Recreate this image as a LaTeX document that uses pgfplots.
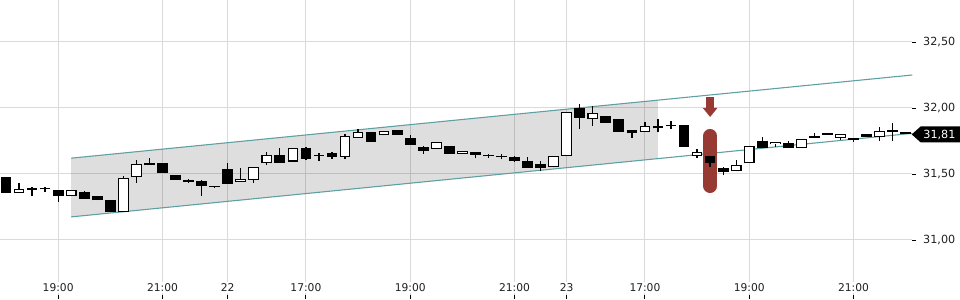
\documentclass[border=0pt]{standalone}
\usepackage{fontspec}
\setmainfont{DejaVu Sans}
\usepackage{pgfplots}
\pgfplotsset{compat=1.18}
\usepackage{pgfplotstable}
\usetikzlibrary{arrows.meta}
\definecolor{gridc}{RGB}{218,218,218}
\definecolor{chan}{RGB}{95,160,162}
\definecolor{pillc}{RGB}{152,58,52}

\pgfplotstableread{
i O H L C
1 31.356 31.434 31.356 31.386
5 31.333 31.380 31.333 31.380
9 31.210 31.485 31.210 31.470
10 31.475 31.606 31.434 31.573
18 31.442 31.548 31.442 31.462
19 31.457 31.553 31.435 31.553
20 31.580 31.667 31.568 31.644
22 31.594 31.697 31.594 31.697
26 31.631 31.800 31.616 31.788
27 31.771 31.838 31.771 31.818
29 31.793 31.823 31.793 31.823
33 31.692 31.745 31.692 31.742
35 31.654 31.674 31.654 31.674
42 31.551 31.636 31.551 31.636
43 31.639 31.967 31.639 31.967
45 31.915 32.015 31.866 31.960
49 31.817 31.896 31.817 31.861
53 31.639 31.687 31.624 31.667
56 31.520 31.606 31.520 31.566
57 31.581 31.712 31.581 31.712
59 31.725 31.742 31.707 31.742
61 31.695 31.763 31.695 31.763
64 31.775 31.803 31.758 31.803
67 31.778 31.859 31.752 31.823
}\up

\pgfplotstableread{
i O H L C
0 31.477 31.477 31.356 31.356
2 31.390 31.400 31.330 31.380
3 31.388 31.400 31.360 31.384
4 31.380 31.380 31.290 31.330
6 31.360 31.370 31.310 31.310
7 31.330 31.336 31.300 31.300
8 31.300 31.300 31.210 31.210
11 31.580 31.620 31.566 31.566
12 31.585 31.585 31.510 31.510
13 31.492 31.492 31.457 31.457
14 31.453 31.462 31.435 31.442
15 31.450 31.455 31.336 31.412
16 31.404 31.404 31.400 31.400
17 31.538 31.586 31.427 31.427
21 31.644 31.700 31.586 31.586
23 31.697 31.707 31.606 31.614
24 31.636 31.660 31.600 31.634
25 31.657 31.669 31.616 31.631
28 31.818 31.818 31.745 31.745
30 31.833 31.833 31.798 31.798
31 31.773 31.798 31.722 31.722
32 31.705 31.715 31.652 31.677
34 31.712 31.712 31.654 31.654
36 31.667 31.667 31.621 31.644
37 31.635 31.652 31.621 31.633
38 31.630 31.652 31.611 31.628
39 31.629 31.639 31.593 31.601
40 31.598 31.629 31.548 31.548
41 31.576 31.598 31.523 31.548
44 32.000 32.030 31.843 31.927
46 31.939 31.939 31.889 31.889
47 31.917 31.920 31.818 31.818
48 31.833 31.833 31.775 31.808
50 31.866 31.920 31.816 31.846
51 31.872 31.899 31.840 31.862
52 31.874 31.874 31.707 31.707
54 31.636 31.636 31.556 31.586
55 31.543 31.556 31.492 31.518
58 31.747 31.783 31.695 31.695
60 31.737 31.750 31.695 31.695
62 31.777 31.813 31.775 31.774
63 31.808 31.813 31.795 31.795
65 31.773 31.773 31.745 31.760
66 31.806 31.806 31.783 31.783
68 31.833 31.889 31.747 31.818
69 31.812 31.812 31.806 31.806
}\down

\pgfplotsset{
  candle/.style 2 args={draw=none, mark=none, forget plot,
    error bars/.cd, y dir=plus, y explicit, error mark=none,
    error bar style={draw=#1, line width=#2}, /pgfplots/.cd},
}

\begin{document}
\begin{tikzpicture}
\useasboundingbox (0,0) rectangle (960bp,300bp);
\begin{axis}[
  at={(0,5bp)}, anchor=south west,
  scale only axis, width=911.7bp, height=295bp,
  xmin=-0.46, xmax=69.46, ymin=30.5833, ymax=32.8182,
  axis x line*=bottom, axis y line*=right,
  axis line style={draw=none},
  clip=false,
  grid=major,
  major grid style={gridc, line width=1bp},
  xtick={4,12,17,23,31,39,43,49,57,65},
  xticklabels={19:00,21:00,22,17:00,19:00,21:00,23,17:00,19:00,21:00},
  ytick={31,31.5,32,32.5},
  yticklabels={{31,00},{31,50},{32,00},{32,50}},
  tick align=outside,
  major tick length=4bp,
  tick style={black, line width=0.9bp},
  /pgf/number format/assume math mode=true,
  yticklabel style={font=\fontsize{11.2bp}{13bp}\selectfont, text=black!88, anchor=west, xshift=4bp},
  xticklabel style={font=\fontsize{10.7bp}{13bp}\selectfont, text=black!88, anchor=base, yshift=8bp, fill=white, inner sep=1.5bp},
]
% channel area
\addplot[draw=none, fill=black, fill opacity=0.13] coordinates {(5,31.62) (50,32.059) (50,31.617) (5,31.175)} -- cycle;
\addplot[chan, line width=1.1bp] coordinates {(5,31.62) (69.5,32.25)};
\addplot[chan, line width=1.1bp] coordinates {(5,31.175) (69.5,31.808)};
% marker pill
\addplot[pillc, line width=14bp, line cap=round] coordinates {(54,31.409) (54,31.788)};
% wicks
\addplot[candle={black}{1.3bp}]
  table[x=i, y=L, y error plus expr={\thisrow{H}-\thisrow{L}}] {\up};
\addplot[candle={black}{1.3bp}]
  table[x=i, y=L, y error plus expr={\thisrow{H}-\thisrow{L}}] {\down};
% bodies
\addplot[candle={black}{10.7bp}]
  table[x=i, y=O, y error plus expr={max(\thisrow{C}-\thisrow{O},0.011)}] {\up};
\addplot[candle={black}{10.7bp}]
  table[x=i, y=C, y error plus expr={max(\thisrow{O}-\thisrow{C},0.011)}] {\down};
\addplot[candle={white}{8.5bp}]
  table[x=i, y expr={\thisrow{O}+0.0083}, y error plus expr={max(\thisrow{C}-\thisrow{O}-0.0166,0)}] {\up};
% arrow
\draw[pillc, line width=8bp, -{Triangle[width=14bp,length=9bp]}] (axis cs:54,32.083) -- (axis cs:54,31.932);
\coordinate (tag) at (axis cs:69.46,31.80);
\end{axis}
% last price tag
\fill[black] (tag) -- ++(9bp,8bp) -- ++(40bp,0bp) -- ++(0bp,-16bp) -- ++(-40bp,0bp) -- cycle;
\node[anchor=base west, inner sep=0pt, text=white, font=\fontsize{11.2bp}{13bp}\selectfont] at ([xshift=11.5bp, yshift=-4bp]tag) {31,81};
\end{tikzpicture}
\end{document}
